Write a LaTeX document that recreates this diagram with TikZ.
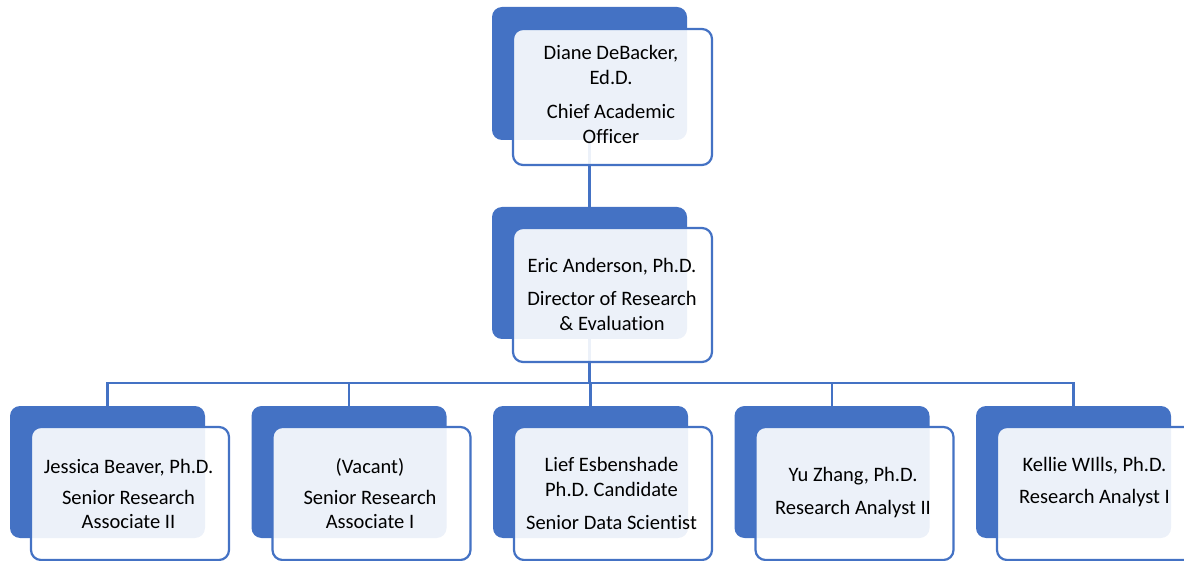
\documentclass[tikz,border=0pt]{standalone}
\usepackage{fontspec}
\setmainfont{Carlito}[Ligatures=NoCommon]
\definecolor{acc}{HTML}{4472C4}
\begin{document}
\begin{tikzpicture}[x=1pt,y=-1pt,
  backbox/.style={draw=none,fill=acc,rounded corners=10pt,minimum width=195pt,minimum height=132pt,inner sep=0pt,outer sep=0pt},
  frontbox/.style={draw=acc,line width=2.2pt,fill=white,fill opacity=0.9,rounded corners=10pt,minimum width=198pt,minimum height=133pt,inner sep=0pt,outer sep=0pt},
  label/.style={align=center,font=\fontsize{20.5}{24.5}\selectfont,text=black,inner sep=0pt},
  conn/.style={draw=acc,line width=2.2pt}]
\useasboundingbox (0,0) rectangle (1184,561);
% layout coordinates
\coordinate (bus) at (589.5,383);
% connectors (drawn first, boxes sit over them)
\path (589.5,73.5) coordinate (p0) (589.5,273) coordinate (p1);
\foreach \i/\L in {1/10,2/251.5,3/493,4/734.5,5/976}{
  \coordinate (q\i) at (\L+97.5,406);
}
\draw[conn] (p0) -- (589.5,207);
\draw[conn] (p1) -- (bus);
\foreach \i in {1,...,5}{ \draw[conn] (q\i) |- (bus); }
% top unit
\node[backbox,minimum height=133pt] (b0) at (589.5,73.5) {};
\node[frontbox,minimum width=199pt,minimum height=136pt] (w0) at (612.5,97) {};
\node[label] (t0) at (611,94.5) {Diane DeBacker,\\Ed.D.\\[10pt]Chief Academic\\Officer};
% second unit
\node[backbox] (b1) at (589.5,273) {};
\node[frontbox,minimum width=199pt,minimum height=134pt] (w1) at (612.5,295) {};
\node[label] (t1) at (612,294) {Eric Anderson, Ph.D.\\[9pt]Director of Research\\\& Evaluation};
% bottom row
\foreach \i/\L in {1/10,2/251.5,3/493,4/734.5,5/976}{
  \node[backbox] (c\i) at (\L+97.5,472) {};
  \node[frontbox] (v\i) at (\L+120,493.5) {};
}
\node[label] (s1) at (128.5,494) {Jessica Beaver, Ph.D.\\[6pt]Senior Research\\Associate II};
\node[label] (s2) at (370,494) {(Vacant)\\[6pt]Senior Research\\Associate I};
\node[label] (s3) at (611.5,493.5) {Lief Esbenshade\\Ph.D. Candidate\\[9pt]Senior Data Scientist};
\node[label] (s4) at (853,492.5) {Yu Zhang, Ph.D.\\[8pt]Research Analyst II};
\node[label] (s5) at (1094.5,482) {Kellie WIlls, Ph.D.\\[7pt]Research Analyst I};
\end{tikzpicture}
\end{document}
